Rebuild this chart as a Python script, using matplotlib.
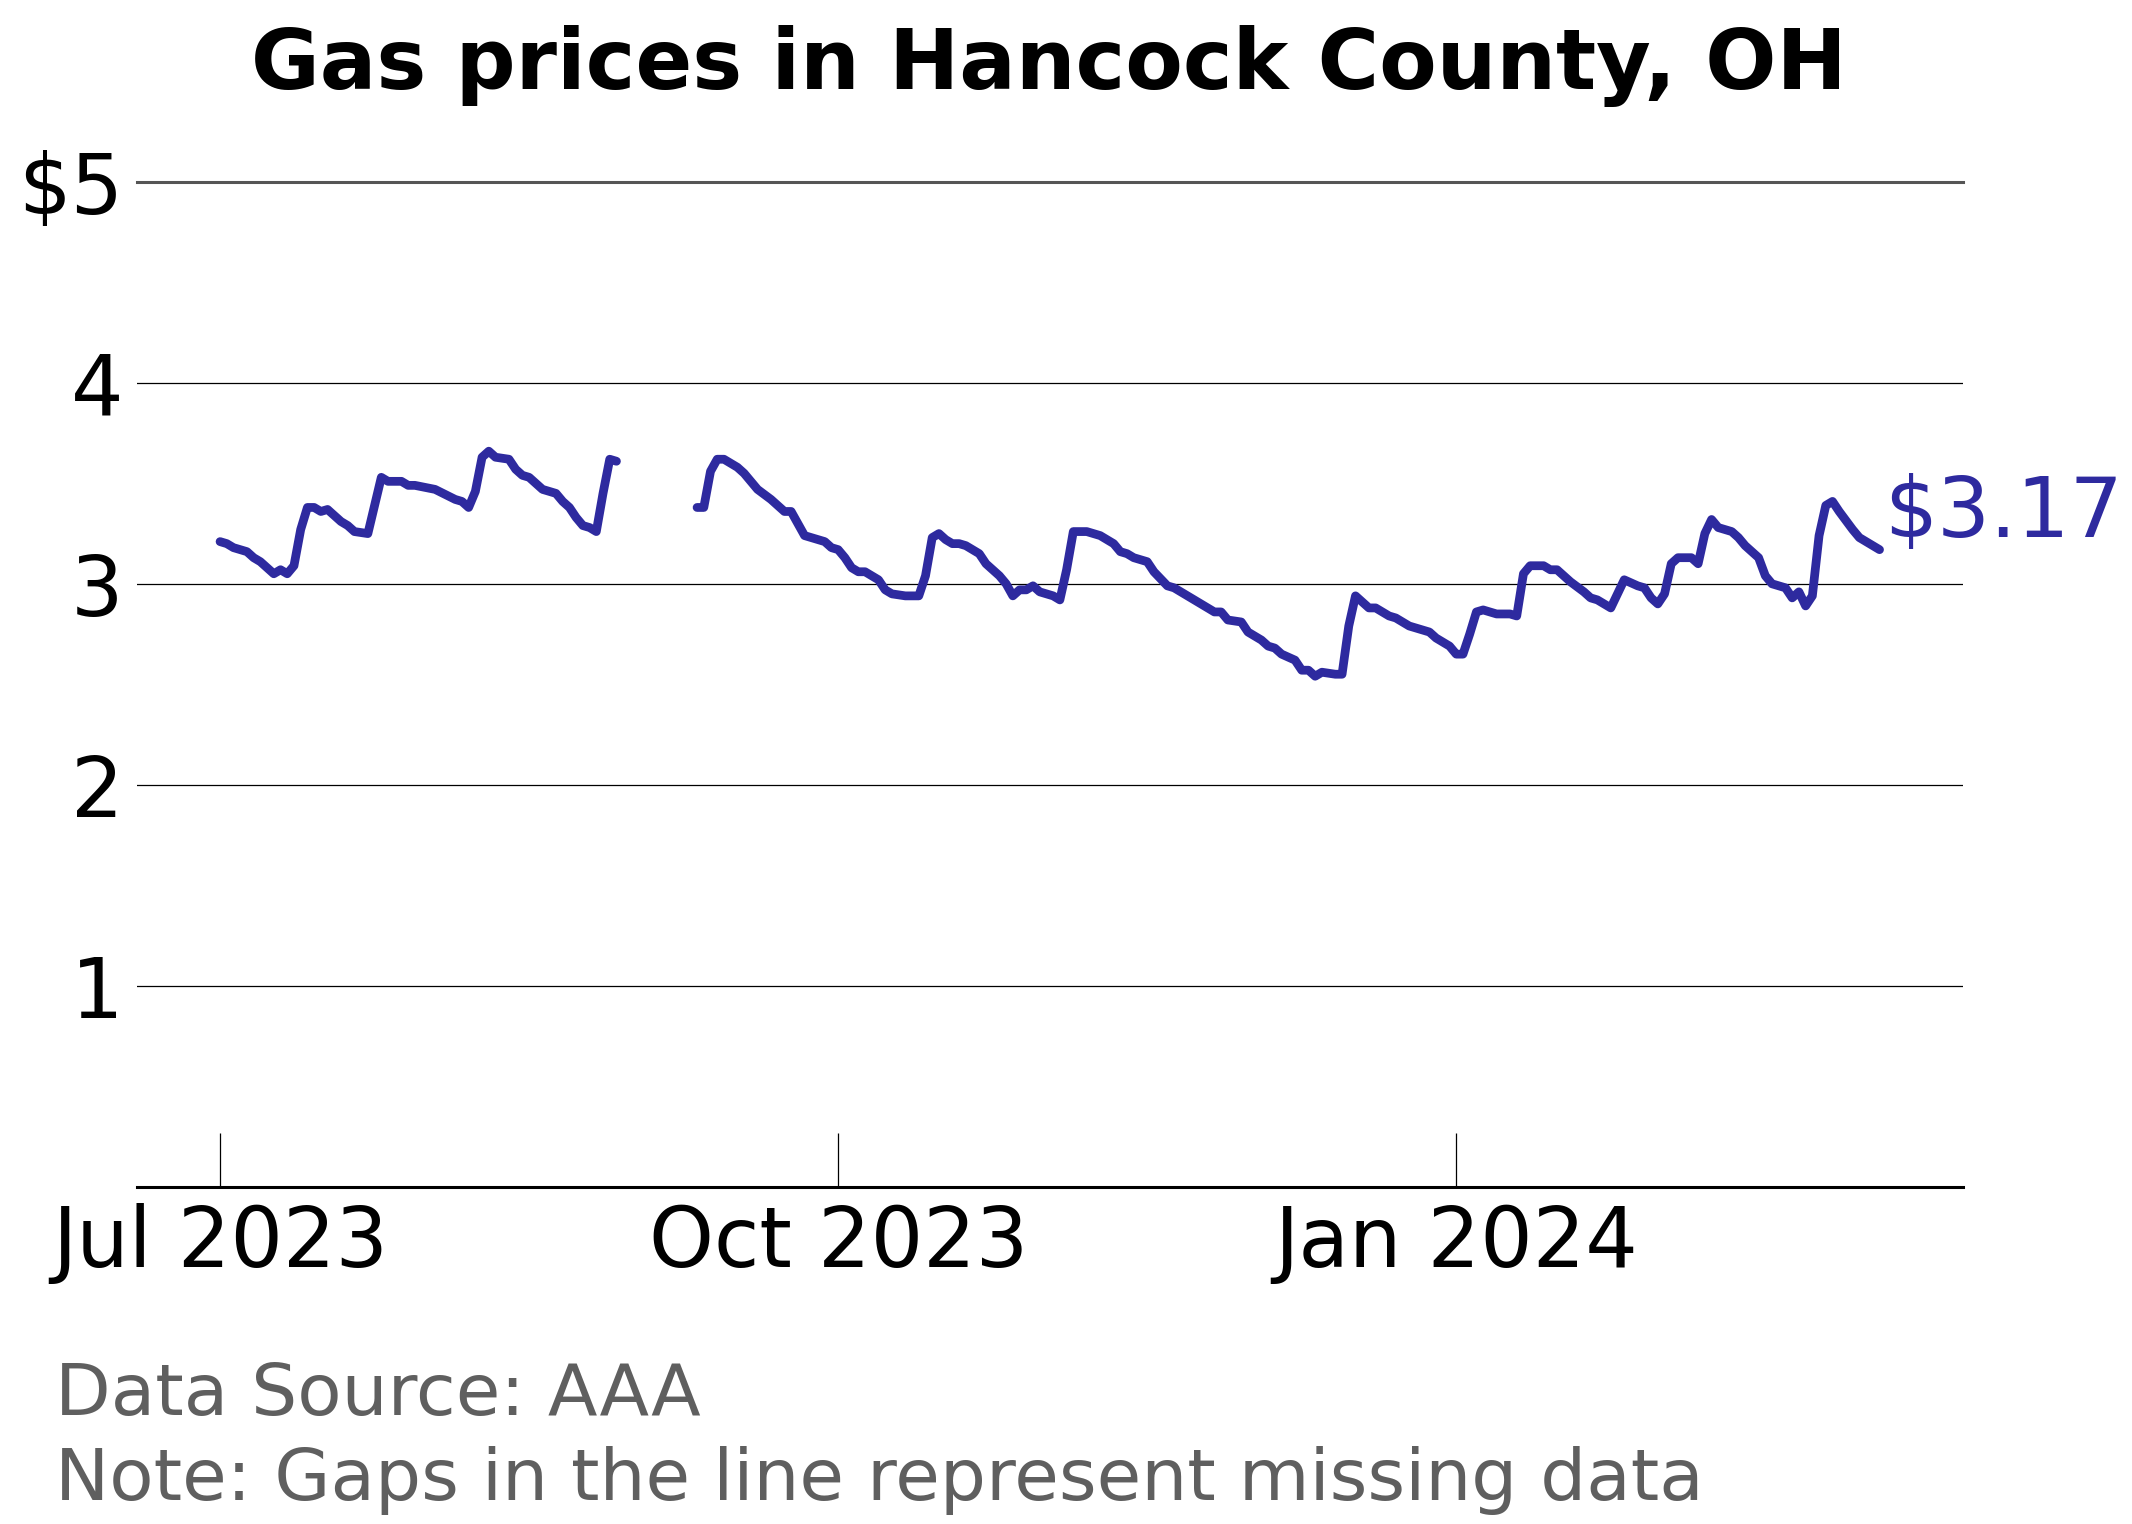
import matplotlib
matplotlib.use("Agg")
import matplotlib.pyplot as plt
import matplotlib.dates as mdates
import numpy as np
import pandas as pd

# daily average regular gas price (NaN = missing data)
dates = [
    "2023-07-01", "2023-07-02", "2023-07-03", "2023-07-05", "2023-07-06", "2023-07-07",
    "2023-07-08", "2023-07-09", "2023-07-10", "2023-07-11", "2023-07-12", "2023-07-13",
    "2023-07-14", "2023-07-15", "2023-07-16", "2023-07-17", "2023-07-19", "2023-07-20",
    "2023-07-21", "2023-07-23", "2023-07-25", "2023-07-26", "2023-07-28", "2023-07-29",
    "2023-07-30", "2023-08-02", "2023-08-05", "2023-08-06", "2023-08-07", "2023-08-08",
    "2023-08-09", "2023-08-10", "2023-08-11", "2023-08-13", "2023-08-14", "2023-08-15",
    "2023-08-16", "2023-08-18", "2023-08-19", "2023-08-20", "2023-08-21", "2023-08-22",
    "2023-08-23", "2023-08-24", "2023-08-25", "2023-08-26", "2023-08-27", "2023-08-28",
    "2023-08-29",
    "2023-09-05",
    "2023-09-10", "2023-09-11", "2023-09-12", "2023-09-13", "2023-09-14", "2023-09-16",
    "2023-09-17", "2023-09-18", "2023-09-19", "2023-09-21", "2023-09-22", "2023-09-23",
    "2023-09-24", "2023-09-25", "2023-09-26", "2023-09-27", "2023-09-29", "2023-09-30",
    "2023-10-01", "2023-10-02", "2023-10-03", "2023-10-04", "2023-10-05", "2023-10-07",
    "2023-10-08", "2023-10-09", "2023-10-11", "2023-10-13", "2023-10-14", "2023-10-15",
    "2023-10-16", "2023-10-17", "2023-10-18", "2023-10-19", "2023-10-20", "2023-10-22",
    "2023-10-23", "2023-10-25", "2023-10-26", "2023-10-27", "2023-10-28", "2023-10-29",
    "2023-10-30", "2023-10-31", "2023-11-02", "2023-11-03", "2023-11-04", "2023-11-05",
    "2023-11-06", "2023-11-07", "2023-11-08", "2023-11-09", "2023-11-10", "2023-11-11",
    "2023-11-12", "2023-11-13", "2023-11-14", "2023-11-16", "2023-11-17", "2023-11-19",
    "2023-11-20", "2023-11-21", "2023-11-23", "2023-11-24", "2023-11-25", "2023-11-26",
    "2023-11-27", "2023-11-28", "2023-11-30", "2023-12-01", "2023-12-03", "2023-12-04",
    "2023-12-05", "2023-12-06", "2023-12-08", "2023-12-09", "2023-12-10", "2023-12-11",
    "2023-12-12", "2023-12-14", "2023-12-15", "2023-12-16", "2023-12-17", "2023-12-18",
    "2023-12-19", "2023-12-20", "2023-12-22", "2023-12-23", "2023-12-25", "2023-12-26",
    "2023-12-28", "2023-12-29", "2023-12-31", "2024-01-01", "2024-01-02", "2024-01-03",
    "2024-01-04", "2024-01-05", "2024-01-07", "2024-01-09", "2024-01-10", "2024-01-11",
    "2024-01-12", "2024-01-14", "2024-01-15", "2024-01-16", "2024-01-17", "2024-01-18",
    "2024-01-20", "2024-01-21", "2024-01-22", "2024-01-24", "2024-01-26", "2024-01-28",
    "2024-01-29", "2024-01-30", "2024-01-31", "2024-02-01", "2024-02-02", "2024-02-03",
    "2024-02-05", "2024-02-06", "2024-02-07", "2024-02-08", "2024-02-09", "2024-02-11",
    "2024-02-12", "2024-02-13", "2024-02-15", "2024-02-16", "2024-02-17", "2024-02-19",
    "2024-02-20", "2024-02-21", "2024-02-22", "2024-02-23", "2024-02-24", "2024-02-25",
    "2024-02-26", "2024-02-27", "2024-02-29", "2024-03-01", "2024-03-02", "2024-03-04",
]
prices = [
    3.21, 3.20, 3.18, 3.16, 3.13, 3.11,
    3.08, 3.05, 3.07, 3.05, 3.09, 3.27,
    3.38, 3.38, 3.36, 3.37, 3.31, 3.29,
    3.26, 3.25, 3.53, 3.51, 3.51, 3.49,
    3.49, 3.47, 3.42, 3.41, 3.38, 3.46,
    3.63, 3.66, 3.63, 3.62, 3.57, 3.54,
    3.53, 3.47, 3.46, 3.45, 3.41, 3.38,
    3.33, 3.29, 3.28, 3.26, 3.45, 3.62,
    3.61,
    np.nan,
    3.38, 3.38, 3.56, 3.62, 3.62, 3.58,
    3.55, 3.51, 3.47, 3.42, 3.39, 3.36,
    3.36, 3.30, 3.24, 3.23, 3.21, 3.18,
    3.17, 3.13, 3.08, 3.06, 3.06, 3.02,
    2.97, 2.95, 2.94, 2.94, 3.04, 3.23,
    3.25, 3.22, 3.20, 3.20, 3.19, 3.15,
    3.10, 3.04, 3.00, 2.94, 2.97, 2.97,
    2.99, 2.96, 2.94, 2.92, 3.07, 3.26,
    3.26, 3.26, 3.25, 3.24, 3.22, 3.20,
    3.16, 3.15, 3.13, 3.11, 3.06, 2.99,
    2.98, 2.96, 2.92, 2.90, 2.88, 2.86,
    2.86, 2.82, 2.81, 2.76, 2.72, 2.69,
    2.68, 2.65, 2.62, 2.57, 2.57, 2.54,
    2.56, 2.55, 2.55, 2.79, 2.94, 2.91,
    2.88, 2.88, 2.84, 2.83, 2.79, 2.78,
    2.76, 2.73, 2.69, 2.65, 2.65, 2.75,
    2.86, 2.87, 2.85, 2.85, 2.84, 3.05,
    3.09, 3.09, 3.07, 3.07, 3.04, 3.01,
    2.96, 2.93, 2.92, 2.88, 3.02, 2.99,
    2.98, 2.93, 2.90, 2.95, 3.10, 3.13,
    3.13, 3.10, 3.25, 3.32, 3.28, 3.26,
    3.23, 3.19, 3.13, 3.04, 3.00, 2.98,
    2.93, 2.96, 2.89, 2.94, 3.24, 3.39,
    3.41, 3.36, 3.27, 3.23, 3.21, 3.17,
]

y_ticks = [1, 2, 3, 4, 5]
y_labels = ["1", "2", "3", "4", "$5"]

line_color = "#2e2a9f"

x = pd.to_datetime(dates)

fig = plt.figure(figsize=(21.32, 15.24), dpi=100)
ax = fig.add_axes([0.0643, 0.2214, 0.8562, 0.6592])

ax.plot(x, prices, color=line_color, lw=6.3,
        solid_capstyle="round", solid_joinstyle="round")

ax.set_ylim(0, 5)
ax.set_yticks(y_ticks)
ax.set_yticklabels(y_labels)
ax.yaxis.grid(True, color="black", lw=0.9)
ax.set_axisbelow(True)

ax.xaxis.set_major_locator(mdates.MonthLocator(bymonth=[1, 4, 7, 10]))
ax.xaxis.set_major_formatter(mdates.DateFormatter("%b %Y"))

ax.tick_params(axis="y", length=0, pad=10, labelsize=59.5)
ax.tick_params(axis="x", direction="in", length=39, width=0.9,
               pad=12, labelsize=59.5)

for s in ["left", "right"]:
    ax.spines[s].set_visible(False)
ax.spines["top"].set_color("#555555")
ax.spines["top"].set_linewidth(2.2)
ax.spines["bottom"].set_linewidth(2.2)

# last value label
ax.annotate(f"${prices[-1]:.2f}", xy=(x[-1], prices[-1]),
            xytext=(3, 9), textcoords="offset points",
            ha="left", va="baseline", fontsize=60, color=line_color,
            annotation_clip=False)

fig.text(0.4922, 0.9416, "Gas prices in Hancock County, OH",
         ha="center", va="baseline", fontsize=60.4, fontweight="bold")

fig.text(0.026, 0.0715, "Data Source: AAA", ha="left", va="baseline",
         fontsize=52.2, color="#5f5f5f")
fig.text(0.026, 0.0157, "Note: Gaps in the line represent missing data",
         ha="left", va="baseline", fontsize=52.2, color="#5f5f5f")

fig.savefig("out.png", dpi=100)
